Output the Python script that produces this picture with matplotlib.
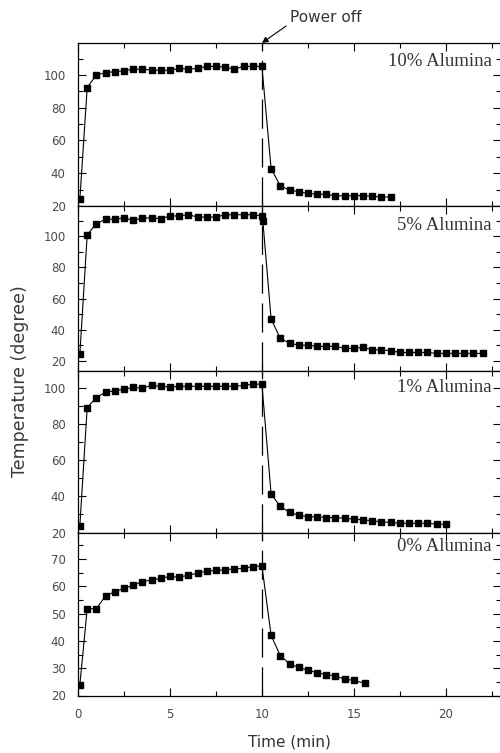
import matplotlib
matplotlib.use('Agg')
import matplotlib.pyplot as plt
from matplotlib.ticker import MultipleLocator

plt.rcParams['lines.scale_dashes'] = False

# ---------------- data ----------------
t_heat = [0.1, 0.5, 1.0, 1.5, 2.0, 2.5, 3.0, 3.5, 4.0, 4.5, 5.0,
          5.5, 6.0, 6.5, 7.0, 7.5, 8.0, 8.5, 9.0, 9.5, 10.0]

p10_heat = [24, 92.3, 100, 101.4, 102, 102.6, 103.4, 103.5, 103, 102.8, 102.8,
            104, 103.5, 104, 105.2, 105.2, 104.8, 103.5, 105.2, 105.2, 105.2]
p10_cool_t = [10.5, 11.0, 11.5, 12.0, 12.5, 13.0, 13.5, 14.0, 14.5, 15.0, 15.5,
              16.0, 16.5, 17.0]
p10_cool = [42.8, 32.3, 29.7, 28.7, 27.7, 27.2, 27.2, 26.2, 26.2, 26.2, 26.4,
            25.9, 25.5, 25.5]

p5_heat = [24.3, 101, 108.2, 111, 111, 111.8, 110.3, 111.8, 111.8, 111.3, 113.1,
           113.1, 113.9, 112.4, 112.4, 112.4, 113.9, 113.9, 113.9, 113.9, 113.1]
p5_cool_t = [10.05, 10.5, 11.0, 11.5, 12.0, 12.5, 13.0, 13.5, 14.0, 14.5, 15.0,
             15.5, 16.0, 16.5, 17.0, 17.5, 18.0, 18.5, 19.0, 19.5, 20.0,
             20.5, 21.0, 21.5, 22.0]
p5_cool = [110.0, 46.9, 34.4, 31.4, 30.1, 30.1, 29.3, 29.3, 29.3, 28, 28,
           28.7, 27.1, 27.1, 26.5, 25.4, 25.4, 25.4, 25.4, 24.8, 24.8,
           24.8, 24.8, 24.8, 24.8]

p1_heat = [23.6, 89.2, 94.8, 97.8, 98.5, 99.4, 100.4, 100, 101.5, 101, 100.6,
           101, 101, 101, 101, 101, 101, 101, 101.5, 102.2, 102.2]
p1_cool_t = [10.5, 11.0, 11.5, 12.0, 12.5, 13.0, 13.5, 14.0, 14.5, 15.0,
             15.5, 16.0, 16.5, 17.0, 17.5, 18.0, 18.5, 19.0, 19.5, 20.0]
p1_cool = [41.3, 34.5, 31.1, 29.6, 28.7, 28.7, 28.3, 28.3, 27.9, 27.4,
           27.0, 26.5, 25.9, 25.6, 25.1, 25.1, 25.1, 25.1, 24.6, 24.6]

p0_heat = [23.9, 51.8, 51.8, 56.5, 58, 59.2, 60.4, 61.7, 62.3, 62.9, 63.6,
           63.3, 64.1, 64.8, 65.5, 65.8, 66.1, 66.3, 66.6, 67.2, 67.5]
p0_cool_t = [10.5, 11.0, 11.5, 12.0, 12.5, 13.0, 13.5, 14.0, 14.5, 15.0, 15.6]
p0_cool = [42, 34.6, 31.6, 30.3, 29.2, 28.4, 27.6, 27.2, 26.0, 25.5, 24.5]

labels = ['10% Alumina', '5% Alumina', '1% Alumina', '0% Alumina']
series = [(p10_heat, p10_cool_t, p10_cool),
          (p5_heat, p5_cool_t, p5_cool),
          (p1_heat, p1_cool_t, p1_cool),
          (p0_heat, p0_cool_t, p0_cool)]
ylims = [(20, 119.5), (13.5, 119.5), (20, 109.5), (20, 79.7)]
ymajor = [20, 20, 20, 10]
yminor = [10, 10, 10, 5]
power_off = 10.0
x_ticks = [0, 5, 10, 15, 20]

# ---------------- layout ----------------
W, H = 500, 753
fig = plt.figure(figsize=(W / 100, H / 100), dpi=100)
tops = [43, 206, 371, 532.5]
bots = [206, 371, 532.5, 695.5]
left_px, right_px = 78, 501
label_dy = [18, 19, 16, 14]

tick_color = '#4a4a4a'
axes = []
for i in range(4):
    ax = fig.add_axes([left_px / W, 1 - bots[i] / H,
                       (right_px - left_px) / W, (bots[i] - tops[i]) / H])
    heat, ct, cv = series[i]
    t_all = list(t_heat) + list(ct)
    v_all = list(heat) + list(cv)
    ax.plot(t_all, v_all, color='black', lw=0.8, marker='s', ms=4.3,
            mec='black', mfc='black', zorder=3)
    ax.axvline(power_off, color='black', lw=0.9, dashes=(21, 7), zorder=2)
    ax.set_xlim(0, 23)
    ax.set_ylim(*ylims[i])
    ax.xaxis.set_major_locator(MultipleLocator(5))
    ax.xaxis.set_minor_locator(MultipleLocator(2.5))
    ax.yaxis.set_major_locator(MultipleLocator(ymajor[i]))
    ax.yaxis.set_minor_locator(MultipleLocator(yminor[i]))
    ax.tick_params(which='both', direction='in', top=True, right=True,
                   width=0.8, color='black', labelsize=8.5,
                   labelcolor=tick_color, pad=9)
    ax.tick_params(which='major', length=6)
    ax.tick_params(which='minor', length=3.5)
    if i < 3:
        ax.tick_params(labelbottom=False)
    for s in ax.spines.values():
        s.set_linewidth(0.9)
    h = bots[i] - tops[i]
    ax.text((492 - left_px) / (right_px - left_px), 1 - label_dy[i] / h,
            labels[i], transform=ax.transAxes, ha='right', va='center',
            family='Liberation Serif', fontsize=13.5, color='#333333')
    axes.append(ax)

axes[-1].set_xticks(x_ticks)
axes[-1].set_xlabel('Time (min)', fontsize=11, color='#333333', labelpad=10)

fig.text(20 / W, 1 - 381 / H, 'Temperature (degree)', rotation=90,
         ha='center', va='center', fontsize=12.5, color='#3a3a3a')

# Power off annotation
axes[0].annotate('Power off', xy=(power_off, ylims[0][1]),
                 xycoords='data',
                 xytext=(290 / W, 1 - 18 / H), textcoords='figure fraction',
                 ha='left', va='center', fontsize=11, color='#333333',
                 annotation_clip=False,
                 arrowprops=dict(arrowstyle='-|>', color='black', lw=0.8,
                                 mutation_scale=9, shrinkA=1, shrinkB=0,
                                 relpos=(0.0, 0.15)))

fig.savefig('out.png', dpi=100)
